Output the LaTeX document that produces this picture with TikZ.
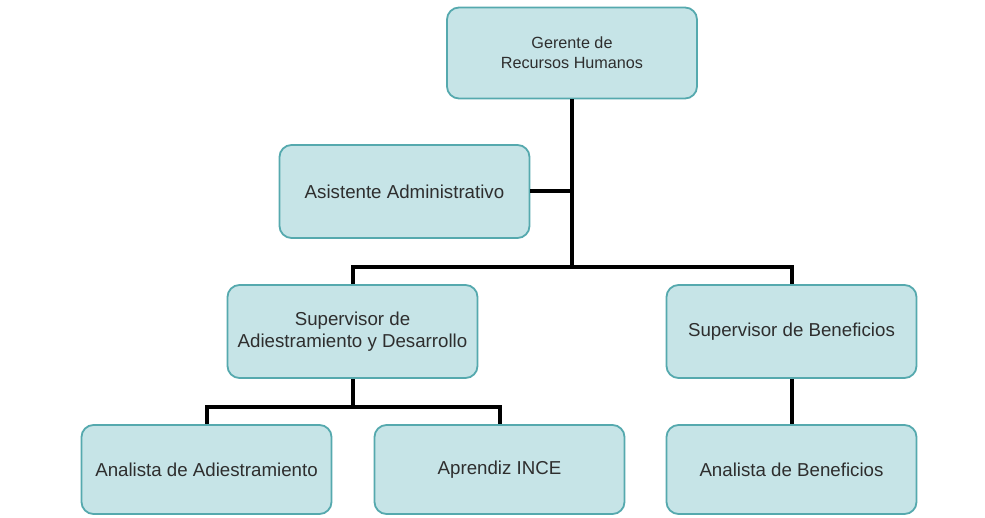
\documentclass[tikz,border=0pt]{standalone}
\usepackage{fontspec}
\setmainfont{Liberation Sans}
\begin{document}
\begin{tikzpicture}[x=1pt,y=-1pt,
  orgbox/.style={draw=boxedge,fill=boxfill,line width=1.8pt,rounded corners=12pt,
    minimum width=250pt,minimum height=91pt,align=center,text=black!82,
    font=\fontsize{18.7}{22}\selectfont},
  link/.style={line width=4pt,line join=miter}]
\definecolor{boxfill}{HTML}{C6E4E7}
\definecolor{boxedge}{HTML}{55A9AE}
\useasboundingbox (0,0) rectangle (985,518);
\fill[white] (0,0) rectangle (985,518);

% positions of the org chart boxes
\node[orgbox,font=\fontsize{16.2}{20}\selectfont] (ger) at (572,53) {Gerente de\\Recursos Humanos};
\node[orgbox,minimum height=93pt] (asi) at (404.5,191.5) {Asistente Administrativo};
\node[orgbox,minimum height=93pt] (sad) at (352.5,331.5) {Supervisor de\\Adiestramiento y Desarrollo};
\node[orgbox,minimum height=93pt] (sben) at (791.5,331.5) {Supervisor de Beneficios};
\node[orgbox,minimum height=89pt] (aad) at (206.5,469.5) {Analista de Adiestramiento};
\node[orgbox,minimum height=89pt] (apr) at (499.5,469.5) {Aprendiz INCE};
\node[orgbox,minimum height=89pt] (aben) at (791.5,469.5) {Analista de Beneficios};

% junction points of the horizontal buses
\coordinate (bus1) at (572,267);
\coordinate (bus2) at (352.5,407);

% reporting lines
\draw[link] (ger.south) -- (bus1);
\draw[link] (asi.east) -- (asi.east -| bus1);
\draw[link] (sad.north) |- (bus1) -| (sben.north);
\draw[link] (sad.south) -- (bus2);
\draw[link] (aad.north) |- (bus2) -| (apr.north);
\draw[link] (sben.south) -- (aben.north);
\end{tikzpicture}
\end{document}
